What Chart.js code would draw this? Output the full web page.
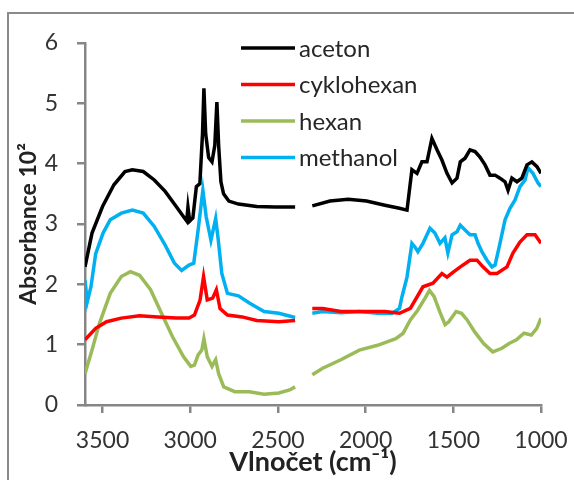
<!DOCTYPE html>
<html>
<head>
<meta charset="utf-8">
<script src="https://cdn.jsdelivr.net/npm/chart.js@4"></script>
<style>
  body { margin: 0; background: #fff; }
</style>
</head>
<body>
<canvas id="spectraChart" width="574" height="480"></canvas>
<script>
// IR spectra, wavenumber (cm-1) vs absorbance x 10^2; null marks the gap near 2350
const acetonWn = [3600, 3560, 3500, 3435, 3372, 3330, 3268, 3205, 3143, 3080, 3038, 3020, 3013, 3003, 2985, 2965, 2945, 2930, 2922, 2912, 2895, 2876, 2860, 2848, 2838, 2825, 2810, 2780, 2725, 2621, 2516, 2402,
  2350,
  2304, 2203, 2099, 1995, 1890, 1807, 1764, 1736, 1707, 1679, 1650, 1622, 1593, 1565, 1536, 1507, 1479, 1460, 1433, 1405, 1376, 1348, 1319, 1291, 1262, 1234, 1205, 1188, 1166, 1137, 1109, 1080, 1052, 1023, 1000];
const acetonAbs = [2.29, 2.85, 3.29, 3.65, 3.87, 3.9, 3.87, 3.73, 3.54, 3.29, 3.12, 3.05, 3.28, 3.05, 3.1, 3.62, 3.67, 4.5, 5.25, 4.5, 4.1, 4.03, 4.3, 5.02, 4.3, 3.7, 3.5, 3.38, 3.33, 3.29, 3.28, 3.28,
  null,
  3.3, 3.38, 3.41, 3.38, 3.31, 3.26, 3.23, 3.9, 3.84, 4.03, 4.03, 4.42, 4.23, 4.06, 3.84, 3.68, 3.76, 4.03, 4.09, 4.23, 4.2, 4.11, 3.98, 3.81, 3.81, 3.76, 3.7, 3.56, 3.76, 3.7, 3.76, 3.98, 4.03, 3.95, 3.84];

const cyklohexanWn = [3600, 3539, 3477, 3393, 3289, 3185, 3080, 3007, 2976, 2944, 2924, 2903, 2872, 2851, 2830, 2788, 2704, 2621, 2495, 2402,
  2350,
  2304, 2245, 2141, 1995, 1890, 1807, 1745, 1673, 1616, 1565, 1536, 1502, 1460, 1405, 1365, 1331, 1291, 1251, 1194, 1160, 1120, 1080, 1034, 1000];
const cyklohexanAbs = [1.08, 1.27, 1.38, 1.44, 1.48, 1.46, 1.44, 1.44, 1.49, 1.74, 2.13, 1.74, 1.77, 1.91, 1.6, 1.49, 1.46, 1.4, 1.38, 1.4,
  null,
  1.6, 1.6, 1.55, 1.55, 1.55, 1.52, 1.6, 1.96, 2.02, 2.18, 2.12, 2.2, 2.29, 2.4, 2.4, 2.29, 2.18, 2.18, 2.29, 2.52, 2.7, 2.82, 2.82, 2.68];

const hexanWn = [3600, 3560, 3518, 3456, 3393, 3341, 3289, 3226, 3164, 3101, 3038, 2997, 2976, 2955, 2934, 2922, 2903, 2876, 2855, 2838, 2809, 2746, 2663, 2579, 2495, 2433, 2402,
  2350,
  2304, 2245, 2141, 2036, 1932, 1828, 1786, 1745, 1703, 1661, 1636, 1610, 1578, 1547, 1526, 1484, 1453, 1421, 1380, 1327, 1275, 1223, 1182, 1140, 1097, 1055, 1024, 1000];
const hexanAbs = [0.52, 0.91, 1.35, 1.85, 2.13, 2.21, 2.15, 1.91, 1.52, 1.13, 0.8, 0.64, 0.66, 0.83, 0.91, 1.1, 0.8, 0.64, 0.75, 0.52, 0.3, 0.22, 0.22, 0.18, 0.2, 0.25, 0.3,
  null,
  0.5, 0.61, 0.75, 0.91, 0.99, 1.1, 1.19, 1.41, 1.57, 1.77, 1.9, 1.8, 1.55, 1.33, 1.38, 1.55, 1.52, 1.41, 1.22, 1.02, 0.88, 0.94, 1.02, 1.08, 1.19, 1.16, 1.27, 1.44];

const methanolWn = [3600, 3587, 3566, 3539, 3497, 3456, 3393, 3330, 3268, 3205, 3143, 3090, 3049, 3007, 2980, 2955, 2928, 2909, 2882, 2855, 2840, 2820, 2788, 2725, 2663, 2579, 2495, 2402,
  2350,
  2304, 2245, 2141, 2036, 1932, 1849, 1807, 1793, 1764, 1736, 1719, 1702, 1673, 1633, 1605, 1576, 1548, 1531, 1507, 1479, 1460, 1433, 1405, 1376, 1359, 1337, 1308, 1280, 1262, 1234, 1205, 1177, 1148, 1120, 1091, 1074, 1046, 1017, 1000];
const methanolAbs = [2.07, 1.71, 1.96, 2.51, 2.85, 3.07, 3.18, 3.23, 3.18, 2.96, 2.65, 2.35, 2.23, 2.32, 2.35, 2.9, 3.56, 3.12, 2.73, 3.09, 2.73, 2.18, 1.85, 1.81, 1.69, 1.55, 1.52, 1.45,
  null,
  1.52, 1.55, 1.53, 1.55, 1.52, 1.52, 1.6, 1.79, 2.12, 2.68, 2.62, 2.54, 2.68, 2.93, 2.85, 2.68, 2.77, 2.52, 2.82, 2.87, 2.98, 2.9, 2.82, 2.82, 2.68, 2.54, 2.4, 2.29, 2.32, 2.68, 3.07, 3.26, 3.4, 3.62, 3.73, 3.93, 3.84, 3.68, 3.62];

const xTicks = [3500, 3000, 2500, 2000, 1500, 1000];

function toPoints(wn, abs) {
  return wn.map((w, i) => ({ x: w, y: abs[i] }));
}

const axisGray = '#868686';

// white page with the grey frame round the chart
const frame = {
  id: 'frame',
  beforeDraw(chart) {
    const ctx = chart.ctx;
    ctx.save();
    ctx.fillStyle = '#fff';
    ctx.fillRect(0, 0, chart.width, chart.height);
    ctx.strokeStyle = '#8a8a8a';
    ctx.lineWidth = 2;
    ctx.strokeRect(8, 13, 700, 700);
    ctx.restore();
  }
};

// legend sits inside the plot, one row per series
const legendBox = {
  id: 'legendBox',
  afterDraw(chart) {
    const ctx = chart.ctx;
    ctx.save();
    ctx.font = '24px Lato';
    ctx.textBaseline = 'middle';
    chart.data.datasets.forEach((ds, i) => {
      const y = 48 + i * 36.5;
      ctx.strokeStyle = ds.borderColor;
      ctx.lineWidth = 3.5;
      ctx.beginPath();
      ctx.moveTo(241, y);
      ctx.lineTo(295, y);
      ctx.stroke();
      ctx.fillStyle = '#262626';
      ctx.fillText(ds.label, 299, y + 1);
    });
    ctx.restore();
  }
};

const ctx = document.getElementById('spectraChart').getContext('2d');
new Chart(ctx, {
  type: 'line',
  data: {
    datasets: [
      { label: 'aceton', data: toPoints(acetonWn, acetonAbs), borderColor: '#000000' },
      { label: 'cyklohexan', data: toPoints(cyklohexanWn, cyklohexanAbs), borderColor: '#ff0000' },
      { label: 'hexan', data: toPoints(hexanWn, hexanAbs), borderColor: '#9bbb59' },
      { label: 'methanol', data: toPoints(methanolWn, methanolAbs), borderColor: '#00b0f0' }
    ]
  },
  options: {
    responsive: false,
    animation: false,
    datasets: { line: { borderWidth: 3.5, pointRadius: 0, tension: 0, spanGaps: false } },
    layout: { padding: { top: 43, right: 33, left: 0, bottom: 0 } },
    plugins: { legend: { display: false }, tooltip: { enabled: false } },
    scales: {
      x: {
        type: 'linear',
        reverse: true,
        min: 1000,
        max: 3600,
        afterBuildTicks: (scale) => { scale.ticks = xTicks.map(v => ({ value: v })); },
        afterFit: (scale) => {
          scale.height = 75;
          scale.paddingLeft = 0;
          scale.paddingRight = 0;
        },
        grid: { drawOnChartArea: false, tickLength: 8, color: axisGray, lineWidth: 2.5 },
        border: { color: axisGray, width: 2.5 },
        ticks: {
          color: '#333',
          font: { family: 'Lato', size: 23 },
          padding: 14,
          maxRotation: 0,
          callback: (v) => String(v)
        },
        title: {
          display: true,
          text: 'Vlnočet (cm⁻¹)',
          color: '#222',
          font: { family: 'Lato', size: 27, weight: 'bold' },
          padding: { top: 0, bottom: 2 }
        }
      },
      y: {
        min: 0,
        max: 6,
        afterFit: (scale) => {
          scale.width = 85;
          scale.paddingTop = 0;
          scale.paddingBottom = 0;
        },
        grid: { drawOnChartArea: false, tickLength: 8, color: axisGray, lineWidth: 2.5 },
        border: { color: axisGray, width: 2.5 },
        ticks: { stepSize: 1, color: '#333', font: { family: 'Lato', size: 23 }, padding: 19 },
        title: {
          display: true,
          text: 'Absorbance 10²',
          color: '#222',
          font: { family: 'Lato', size: 23, weight: 'bold' },
          padding: { top: 15, bottom: 0 }
        }
      }
    }
  },
  plugins: [frame, legendBox]
});
</script>
</body>
</html>
